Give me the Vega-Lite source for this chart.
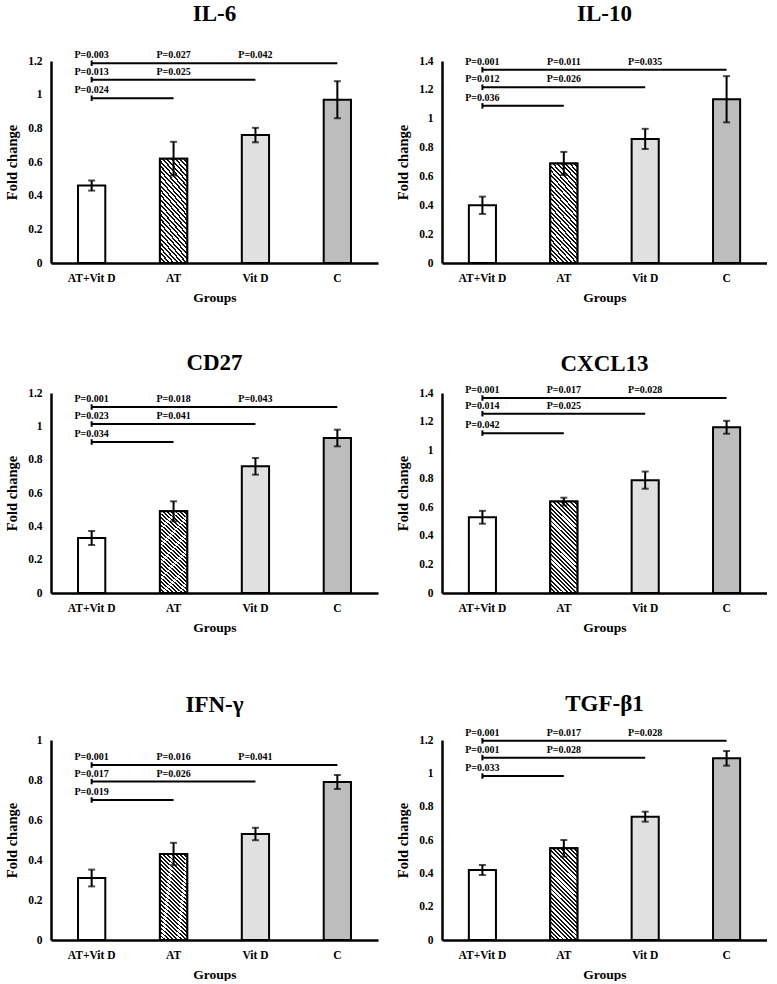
{
"$schema": "https://vega.github.io/schema/vega-lite/v6.json",
"background": "white",
"padding": {"left": 4, "right": 0, "top": 3, "bottom": 0},
"datasets": {
"bars": [
{"panel":"IL-6","group":"AT+Vit D","mean":0.46,"err":0.03},
{"panel":"IL-6","group":"AT","mean":0.62,"err":0.1},
{"panel":"IL-6","group":"Vit D","mean":0.76,"err":0.043},
{"panel":"IL-6","group":"C","mean":0.97,"err":0.11},
{"panel":"IL-10","group":"AT+Vit D","mean":0.4,"err":0.06},
{"panel":"IL-10","group":"AT","mean":0.69,"err":0.08},
{"panel":"IL-10","group":"Vit D","mean":0.86,"err":0.07},
{"panel":"IL-10","group":"C","mean":1.135,"err":0.16},
{"panel":"CD27","group":"AT+Vit D","mean":0.33,"err":0.042},
{"panel":"CD27","group":"AT","mean":0.49,"err":0.06},
{"panel":"CD27","group":"Vit D","mean":0.76,"err":0.05},
{"panel":"CD27","group":"C","mean":0.93,"err":0.05},
{"panel":"CXCL13","group":"AT+Vit D","mean":0.53,"err":0.045},
{"panel":"CXCL13","group":"AT","mean":0.64,"err":0.027},
{"panel":"CXCL13","group":"Vit D","mean":0.79,"err":0.06},
{"panel":"CXCL13","group":"C","mean":1.16,"err":0.045},
{"panel":"IFN-γ","group":"AT+Vit D","mean":0.31,"err":0.042},
{"panel":"IFN-γ","group":"AT","mean":0.43,"err":0.056},
{"panel":"IFN-γ","group":"Vit D","mean":0.53,"err":0.031},
{"panel":"IFN-γ","group":"C","mean":0.79,"err":0.035},
{"panel":"TGF-β1","group":"AT+Vit D","mean":0.42,"err":0.03},
{"panel":"TGF-β1","group":"AT","mean":0.55,"err":0.05},
{"panel":"TGF-β1","group":"Vit D","mean":0.74,"err":0.03},
{"panel":"TGF-β1","group":"C","mean":1.09,"err":0.044}
],
"lines": [
{"panel":"IL-6","from":"AT+Vit D","to":"C","level":1.187},
{"panel":"IL-6","from":"AT+Vit D","to":"Vit D","level":1.089},
{"panel":"IL-6","from":"AT+Vit D","to":"AT","level":0.979},
{"panel":"IL-10","from":"AT+Vit D","to":"C","level":1.339},
{"panel":"IL-10","from":"AT+Vit D","to":"Vit D","level":1.218},
{"panel":"IL-10","from":"AT+Vit D","to":"AT","level":1.089},
{"panel":"CD27","from":"AT+Vit D","to":"C","level":1.116},
{"panel":"CD27","from":"AT+Vit D","to":"Vit D","level":1.014},
{"panel":"CD27","from":"AT+Vit D","to":"AT","level":0.906},
{"panel":"CXCL13","from":"AT+Vit D","to":"C","level":1.365},
{"panel":"CXCL13","from":"AT+Vit D","to":"Vit D","level":1.255},
{"panel":"CXCL13","from":"AT+Vit D","to":"AT","level":1.119},
{"panel":"IFN-γ","from":"AT+Vit D","to":"C","level":0.875},
{"panel":"IFN-γ","from":"AT+Vit D","to":"Vit D","level":0.792},
{"panel":"IFN-γ","from":"AT+Vit D","to":"AT","level":0.7},
{"panel":"TGF-β1","from":"AT+Vit D","to":"C","level":1.195},
{"panel":"TGF-β1","from":"AT+Vit D","to":"Vit D","level":1.094},
{"panel":"TGF-β1","from":"AT+Vit D","to":"AT","level":0.984}
],
"ptext": [
{"panel":"IL-6","group":"AT+Vit D","level":1.187,"p":"P=0.003"},
{"panel":"IL-6","group":"AT","level":1.187,"p":"P=0.027"},
{"panel":"IL-6","group":"Vit D","level":1.187,"p":"P=0.042"},
{"panel":"IL-6","group":"AT+Vit D","level":1.089,"p":"P=0.013"},
{"panel":"IL-6","group":"AT","level":1.089,"p":"P=0.025"},
{"panel":"IL-6","group":"AT+Vit D","level":0.979,"p":"P=0.024"},
{"panel":"IL-10","group":"AT+Vit D","level":1.339,"p":"P=0.001"},
{"panel":"IL-10","group":"AT","level":1.339,"p":"P=0.011"},
{"panel":"IL-10","group":"Vit D","level":1.339,"p":"P=0.035"},
{"panel":"IL-10","group":"AT+Vit D","level":1.218,"p":"P=0.012"},
{"panel":"IL-10","group":"AT","level":1.218,"p":"P=0.026"},
{"panel":"IL-10","group":"AT+Vit D","level":1.089,"p":"P=0.036"},
{"panel":"CD27","group":"AT+Vit D","level":1.116,"p":"P=0.001"},
{"panel":"CD27","group":"AT","level":1.116,"p":"P=0.018"},
{"panel":"CD27","group":"Vit D","level":1.116,"p":"P=0.043"},
{"panel":"CD27","group":"AT+Vit D","level":1.014,"p":"P=0.023"},
{"panel":"CD27","group":"AT","level":1.014,"p":"P=0.041"},
{"panel":"CD27","group":"AT+Vit D","level":0.906,"p":"P=0.034"},
{"panel":"CXCL13","group":"AT+Vit D","level":1.365,"p":"P=0.001"},
{"panel":"CXCL13","group":"AT","level":1.365,"p":"P=0.017"},
{"panel":"CXCL13","group":"Vit D","level":1.365,"p":"P=0.028"},
{"panel":"CXCL13","group":"AT+Vit D","level":1.255,"p":"P=0.014"},
{"panel":"CXCL13","group":"AT","level":1.255,"p":"P=0.025"},
{"panel":"CXCL13","group":"AT+Vit D","level":1.119,"p":"P=0.042"},
{"panel":"IFN-γ","group":"AT+Vit D","level":0.875,"p":"P=0.001"},
{"panel":"IFN-γ","group":"AT","level":0.875,"p":"P=0.016"},
{"panel":"IFN-γ","group":"Vit D","level":0.875,"p":"P=0.041"},
{"panel":"IFN-γ","group":"AT+Vit D","level":0.792,"p":"P=0.017"},
{"panel":"IFN-γ","group":"AT","level":0.792,"p":"P=0.026"},
{"panel":"IFN-γ","group":"AT+Vit D","level":0.7,"p":"P=0.019"},
{"panel":"TGF-β1","group":"AT+Vit D","level":1.195,"p":"P=0.001"},
{"panel":"TGF-β1","group":"AT","level":1.195,"p":"P=0.017"},
{"panel":"TGF-β1","group":"Vit D","level":1.195,"p":"P=0.028"},
{"panel":"TGF-β1","group":"AT+Vit D","level":1.094,"p":"P=0.001"},
{"panel":"TGF-β1","group":"AT","level":1.094,"p":"P=0.028"},
{"panel":"TGF-β1","group":"AT+Vit D","level":0.984,"p":"P=0.033"}
]
},
"vconcat": [
{"vconcat": [
{"hconcat": [
{"width": 327, "height": 202, "title": {"text": "IL-6", "offset": 24},
"layer": [
{"data": {"name": "bars"}, "transform": [{"filter": "datum.panel === 'IL-6'"}], "mark": {"type": "bar", "stroke": "#000", "strokeWidth": 2},
"encoding": {"x": {"field": "group", "type": "nominal", "title": "Groups", "scale": {"domain": ["AT+Vit D","AT","Vit D","C"], "paddingInner": 0.667, "paddingOuter": 0.33}},
"y": {"field": "mean", "type": "quantitative", "title": "Fold change", "scale": {"domain": [0, 1.2], "nice": false}, "axis": {"values": [0,0.2,0.4,0.6,0.8,1,1.2], "tickCount": 12, "format": "~g", "labelOverlap": false}},
"fill": {"field": "group", "type": "nominal", "scale": {"domain": ["AT+Vit D","AT","Vit D","C"], "range": ["#ffffff","#ffffff","#e0e0e0","#bdbdbd"]}, "legend": null}}},
{"data": {"name": "bars"}, "transform": [{"filter": "datum.panel === 'IL-6' && datum.group === 'AT'"}], "mark": {"type": "bar", "stroke": "#000", "strokeWidth": 2, "fill": {"gradient": "linear", "x1": 0, "y1": 1, "x2": 1, "y2": -2.4, "stops": [
{"offset":0,"color":"#111"},{"offset":0.0056,"color":"#111"},{"offset":0.0056,"color":"#fff"},{"offset":0.0125,"color":"#fff"},
{"offset":0.0125,"color":"#111"},{"offset":0.0181,"color":"#111"},{"offset":0.0181,"color":"#fff"},{"offset":0.025,"color":"#fff"},
{"offset":0.025,"color":"#111"},{"offset":0.0306,"color":"#111"},{"offset":0.0306,"color":"#fff"},{"offset":0.0375,"color":"#fff"},
{"offset":0.0375,"color":"#111"},{"offset":0.0431,"color":"#111"},{"offset":0.0431,"color":"#fff"},{"offset":0.05,"color":"#fff"},
{"offset":0.05,"color":"#111"},{"offset":0.0556,"color":"#111"},{"offset":0.0556,"color":"#fff"},{"offset":0.0625,"color":"#fff"},
{"offset":0.0625,"color":"#111"},{"offset":0.0681,"color":"#111"},{"offset":0.0681,"color":"#fff"},{"offset":0.075,"color":"#fff"},
{"offset":0.075,"color":"#111"},{"offset":0.0806,"color":"#111"},{"offset":0.0806,"color":"#fff"},{"offset":0.0875,"color":"#fff"},
{"offset":0.0875,"color":"#111"},{"offset":0.0931,"color":"#111"},{"offset":0.0931,"color":"#fff"},{"offset":0.1,"color":"#fff"},
{"offset":0.1,"color":"#111"},{"offset":0.1056,"color":"#111"},{"offset":0.1056,"color":"#fff"},{"offset":0.1125,"color":"#fff"},
{"offset":0.1125,"color":"#111"},{"offset":0.1181,"color":"#111"},{"offset":0.1181,"color":"#fff"},{"offset":0.125,"color":"#fff"},
{"offset":0.125,"color":"#111"},{"offset":0.1306,"color":"#111"},{"offset":0.1306,"color":"#fff"},{"offset":0.1375,"color":"#fff"},
{"offset":0.1375,"color":"#111"},{"offset":0.1431,"color":"#111"},{"offset":0.1431,"color":"#fff"},{"offset":0.15,"color":"#fff"},
{"offset":0.15,"color":"#111"},{"offset":0.1556,"color":"#111"},{"offset":0.1556,"color":"#fff"},{"offset":0.1625,"color":"#fff"},
{"offset":0.1625,"color":"#111"},{"offset":0.1681,"color":"#111"},{"offset":0.1681,"color":"#fff"},{"offset":0.175,"color":"#fff"},
{"offset":0.175,"color":"#111"},{"offset":0.1806,"color":"#111"},{"offset":0.1806,"color":"#fff"},{"offset":0.1875,"color":"#fff"},
{"offset":0.1875,"color":"#111"},{"offset":0.1931,"color":"#111"},{"offset":0.1931,"color":"#fff"},{"offset":0.2,"color":"#fff"},
{"offset":0.2,"color":"#111"},{"offset":0.2056,"color":"#111"},{"offset":0.2056,"color":"#fff"},{"offset":0.2125,"color":"#fff"},
{"offset":0.2125,"color":"#111"},{"offset":0.2181,"color":"#111"},{"offset":0.2181,"color":"#fff"},{"offset":0.225,"color":"#fff"},
{"offset":0.225,"color":"#111"},{"offset":0.2306,"color":"#111"},{"offset":0.2306,"color":"#fff"},{"offset":0.2375,"color":"#fff"},
{"offset":0.2375,"color":"#111"},{"offset":0.2431,"color":"#111"},{"offset":0.2431,"color":"#fff"},{"offset":0.25,"color":"#fff"},
{"offset":0.25,"color":"#111"},{"offset":0.2556,"color":"#111"},{"offset":0.2556,"color":"#fff"},{"offset":0.2625,"color":"#fff"},
{"offset":0.2625,"color":"#111"},{"offset":0.2681,"color":"#111"},{"offset":0.2681,"color":"#fff"},{"offset":0.275,"color":"#fff"},
{"offset":0.275,"color":"#111"},{"offset":0.2806,"color":"#111"},{"offset":0.2806,"color":"#fff"},{"offset":0.2875,"color":"#fff"},
{"offset":0.2875,"color":"#111"},{"offset":0.2931,"color":"#111"},{"offset":0.2931,"color":"#fff"},{"offset":0.3,"color":"#fff"},
{"offset":0.3,"color":"#111"},{"offset":0.3056,"color":"#111"},{"offset":0.3056,"color":"#fff"},{"offset":0.3125,"color":"#fff"},
{"offset":0.3125,"color":"#111"},{"offset":0.3181,"color":"#111"},{"offset":0.3181,"color":"#fff"},{"offset":0.325,"color":"#fff"},
{"offset":0.325,"color":"#111"},{"offset":0.3306,"color":"#111"},{"offset":0.3306,"color":"#fff"},{"offset":0.3375,"color":"#fff"},
{"offset":0.3375,"color":"#111"},{"offset":0.3431,"color":"#111"},{"offset":0.3431,"color":"#fff"},{"offset":0.35,"color":"#fff"},
{"offset":0.35,"color":"#111"},{"offset":0.3556,"color":"#111"},{"offset":0.3556,"color":"#fff"},{"offset":1,"color":"#fff"}
]}},
"encoding": {"x": {"field": "group", "type": "nominal", "title": "Groups"}, "y": {"field": "mean", "type": "quantitative", "title": "Fold change"}}},
{"data": {"name": "bars"}, "transform": [{"filter": "datum.panel === 'IL-6'"}], "mark": {"type": "errorbar", "thickness": 2, "color": "#000", "ticks": {"size": 7, "thickness": 2, "color": "#000"}},
"encoding": {"x": {"field": "group", "type": "nominal", "title": "Groups"}, "y": {"field": "mean", "type": "quantitative", "title": "Fold change"}, "yError": {"field": "err"}}},
{"data": {"name": "lines"}, "transform": [{"filter": "datum.panel === 'IL-6'"}], "mark": {"type": "rule", "strokeWidth": 2, "color": "#000"},
"encoding": {"x": {"field": "from", "type": "nominal", "title": "Groups"}, "x2": {"field": "to"}, "y": {"field": "level", "type": "quantitative", "title": "Fold change"}}},
{"data": {"name": "lines"}, "transform": [{"filter": "datum.panel === 'IL-6'"}], "mark": {"type": "point", "shape": "M0,-1L0,1", "size": 30, "filled": false, "stroke": "#000", "strokeWidth": 2, "opacity": 1},
"encoding": {"x": {"field": "from", "type": "nominal", "title": "Groups"}, "y": {"field": "level", "type": "quantitative", "title": "Fold change"}}},
{"data": {"name": "ptext"}, "transform": [{"filter": "datum.panel === 'IL-6'"}], "mark": {"type": "text", "dy": -8, "fontSize": 10, "fontWeight": "bold", "color": "#000"},
"encoding": {"x": {"field": "group", "type": "nominal", "title": "Groups"}, "y": {"field": "level", "type": "quantitative", "title": "Fold change"}, "text": {"field": "p"}}}
]},
{"width": 325, "height": 202, "title": {"text": "IL-10", "offset": 29},
"layer": [
{"data": {"name": "bars"}, "transform": [{"filter": "datum.panel === 'IL-10'"}], "mark": {"type": "bar", "stroke": "#000", "strokeWidth": 2},
"encoding": {"x": {"field": "group", "type": "nominal", "title": "Groups", "scale": {"domain": ["AT+Vit D","AT","Vit D","C"], "paddingInner": 0.667, "paddingOuter": 0.33}},
"y": {"field": "mean", "type": "quantitative", "title": "Fold change", "scale": {"domain": [0, 1.4], "nice": false}, "axis": {"values": [0,0.2,0.4,0.6,0.8,1,1.2,1.4], "tickCount": 12, "format": "~g", "labelOverlap": false}},
"fill": {"field": "group", "type": "nominal", "scale": {"domain": ["AT+Vit D","AT","Vit D","C"], "range": ["#ffffff","#ffffff","#e0e0e0","#bdbdbd"]}, "legend": null}}},
{"data": {"name": "bars"}, "transform": [{"filter": "datum.panel === 'IL-10' && datum.group === 'AT'"}], "mark": {"type": "bar", "stroke": "#000", "strokeWidth": 2, "fill": {"gradient": "linear", "x1": 0, "y1": 1, "x2": 1, "y2": -2.4, "stops": [
{"offset":0,"color":"#111"},{"offset":0.0056,"color":"#111"},{"offset":0.0056,"color":"#fff"},{"offset":0.0125,"color":"#fff"},
{"offset":0.0125,"color":"#111"},{"offset":0.0181,"color":"#111"},{"offset":0.0181,"color":"#fff"},{"offset":0.025,"color":"#fff"},
{"offset":0.025,"color":"#111"},{"offset":0.0306,"color":"#111"},{"offset":0.0306,"color":"#fff"},{"offset":0.0375,"color":"#fff"},
{"offset":0.0375,"color":"#111"},{"offset":0.0431,"color":"#111"},{"offset":0.0431,"color":"#fff"},{"offset":0.05,"color":"#fff"},
{"offset":0.05,"color":"#111"},{"offset":0.0556,"color":"#111"},{"offset":0.0556,"color":"#fff"},{"offset":0.0625,"color":"#fff"},
{"offset":0.0625,"color":"#111"},{"offset":0.0681,"color":"#111"},{"offset":0.0681,"color":"#fff"},{"offset":0.075,"color":"#fff"},
{"offset":0.075,"color":"#111"},{"offset":0.0806,"color":"#111"},{"offset":0.0806,"color":"#fff"},{"offset":0.0875,"color":"#fff"},
{"offset":0.0875,"color":"#111"},{"offset":0.0931,"color":"#111"},{"offset":0.0931,"color":"#fff"},{"offset":0.1,"color":"#fff"},
{"offset":0.1,"color":"#111"},{"offset":0.1056,"color":"#111"},{"offset":0.1056,"color":"#fff"},{"offset":0.1125,"color":"#fff"},
{"offset":0.1125,"color":"#111"},{"offset":0.1181,"color":"#111"},{"offset":0.1181,"color":"#fff"},{"offset":0.125,"color":"#fff"},
{"offset":0.125,"color":"#111"},{"offset":0.1306,"color":"#111"},{"offset":0.1306,"color":"#fff"},{"offset":0.1375,"color":"#fff"},
{"offset":0.1375,"color":"#111"},{"offset":0.1431,"color":"#111"},{"offset":0.1431,"color":"#fff"},{"offset":0.15,"color":"#fff"},
{"offset":0.15,"color":"#111"},{"offset":0.1556,"color":"#111"},{"offset":0.1556,"color":"#fff"},{"offset":0.1625,"color":"#fff"},
{"offset":0.1625,"color":"#111"},{"offset":0.1681,"color":"#111"},{"offset":0.1681,"color":"#fff"},{"offset":0.175,"color":"#fff"},
{"offset":0.175,"color":"#111"},{"offset":0.1806,"color":"#111"},{"offset":0.1806,"color":"#fff"},{"offset":0.1875,"color":"#fff"},
{"offset":0.1875,"color":"#111"},{"offset":0.1931,"color":"#111"},{"offset":0.1931,"color":"#fff"},{"offset":0.2,"color":"#fff"},
{"offset":0.2,"color":"#111"},{"offset":0.2056,"color":"#111"},{"offset":0.2056,"color":"#fff"},{"offset":0.2125,"color":"#fff"},
{"offset":0.2125,"color":"#111"},{"offset":0.2181,"color":"#111"},{"offset":0.2181,"color":"#fff"},{"offset":0.225,"color":"#fff"},
{"offset":0.225,"color":"#111"},{"offset":0.2306,"color":"#111"},{"offset":0.2306,"color":"#fff"},{"offset":0.2375,"color":"#fff"},
{"offset":0.2375,"color":"#111"},{"offset":0.2431,"color":"#111"},{"offset":0.2431,"color":"#fff"},{"offset":0.25,"color":"#fff"},
{"offset":0.25,"color":"#111"},{"offset":0.2556,"color":"#111"},{"offset":0.2556,"color":"#fff"},{"offset":0.2625,"color":"#fff"},
{"offset":0.2625,"color":"#111"},{"offset":0.2681,"color":"#111"},{"offset":0.2681,"color":"#fff"},{"offset":0.275,"color":"#fff"},
{"offset":0.275,"color":"#111"},{"offset":0.2806,"color":"#111"},{"offset":0.2806,"color":"#fff"},{"offset":0.2875,"color":"#fff"},
{"offset":0.2875,"color":"#111"},{"offset":0.2931,"color":"#111"},{"offset":0.2931,"color":"#fff"},{"offset":0.3,"color":"#fff"},
{"offset":0.3,"color":"#111"},{"offset":0.3056,"color":"#111"},{"offset":0.3056,"color":"#fff"},{"offset":0.3125,"color":"#fff"},
{"offset":0.3125,"color":"#111"},{"offset":0.3181,"color":"#111"},{"offset":0.3181,"color":"#fff"},{"offset":0.325,"color":"#fff"},
{"offset":0.325,"color":"#111"},{"offset":0.3306,"color":"#111"},{"offset":0.3306,"color":"#fff"},{"offset":0.3375,"color":"#fff"},
{"offset":0.3375,"color":"#111"},{"offset":0.3431,"color":"#111"},{"offset":0.3431,"color":"#fff"},{"offset":0.35,"color":"#fff"},
{"offset":0.35,"color":"#111"},{"offset":0.3556,"color":"#111"},{"offset":0.3556,"color":"#fff"},{"offset":1,"color":"#fff"}
]}},
"encoding": {"x": {"field": "group", "type": "nominal", "title": "Groups"}, "y": {"field": "mean", "type": "quantitative", "title": "Fold change"}}},
{"data": {"name": "bars"}, "transform": [{"filter": "datum.panel === 'IL-10'"}], "mark": {"type": "errorbar", "thickness": 2, "color": "#000", "ticks": {"size": 7, "thickness": 2, "color": "#000"}},
"encoding": {"x": {"field": "group", "type": "nominal", "title": "Groups"}, "y": {"field": "mean", "type": "quantitative", "title": "Fold change"}, "yError": {"field": "err"}}},
{"data": {"name": "lines"}, "transform": [{"filter": "datum.panel === 'IL-10'"}], "mark": {"type": "rule", "strokeWidth": 2, "color": "#000"},
"encoding": {"x": {"field": "from", "type": "nominal", "title": "Groups"}, "x2": {"field": "to"}, "y": {"field": "level", "type": "quantitative", "title": "Fold change"}}},
{"data": {"name": "lines"}, "transform": [{"filter": "datum.panel === 'IL-10'"}], "mark": {"type": "point", "shape": "M0,-1L0,1", "size": 30, "filled": false, "stroke": "#000", "strokeWidth": 2, "opacity": 1},
"encoding": {"x": {"field": "from", "type": "nominal", "title": "Groups"}, "y": {"field": "level", "type": "quantitative", "title": "Fold change"}}},
{"data": {"name": "ptext"}, "transform": [{"filter": "datum.panel === 'IL-10'"}], "mark": {"type": "text", "dy": -8, "fontSize": 10, "fontWeight": "bold", "color": "#000"},
"encoding": {"x": {"field": "group", "type": "nominal", "title": "Groups"}, "y": {"field": "level", "type": "quantitative", "title": "Fold change"}, "text": {"field": "p"}}}
]}
], "spacing": 17},
{"hconcat": [
{"width": 327, "height": 200, "title": {"text": "CD27", "offset": 12},
"layer": [
{"data": {"name": "bars"}, "transform": [{"filter": "datum.panel === 'CD27'"}], "mark": {"type": "bar", "stroke": "#000", "strokeWidth": 2},
"encoding": {"x": {"field": "group", "type": "nominal", "title": "Groups", "scale": {"domain": ["AT+Vit D","AT","Vit D","C"], "paddingInner": 0.667, "paddingOuter": 0.33}},
"y": {"field": "mean", "type": "quantitative", "title": "Fold change", "scale": {"domain": [0, 1.2], "nice": false}, "axis": {"values": [0,0.2,0.4,0.6,0.8,1,1.2], "tickCount": 12, "format": "~g", "labelOverlap": false}},
"fill": {"field": "group", "type": "nominal", "scale": {"domain": ["AT+Vit D","AT","Vit D","C"], "range": ["#ffffff","#ffffff","#e0e0e0","#bdbdbd"]}, "legend": null}}},
{"data": {"name": "bars"}, "transform": [{"filter": "datum.panel === 'CD27' && datum.group === 'AT'"}], "mark": {"type": "bar", "stroke": "#000", "strokeWidth": 2, "fill": {"gradient": "linear", "x1": 0, "y1": 1, "x2": 1, "y2": -2.4, "stops": [
{"offset":0,"color":"#111"},{"offset":0.0056,"color":"#111"},{"offset":0.0056,"color":"#fff"},{"offset":0.0125,"color":"#fff"},
{"offset":0.0125,"color":"#111"},{"offset":0.0181,"color":"#111"},{"offset":0.0181,"color":"#fff"},{"offset":0.025,"color":"#fff"},
{"offset":0.025,"color":"#111"},{"offset":0.0306,"color":"#111"},{"offset":0.0306,"color":"#fff"},{"offset":0.0375,"color":"#fff"},
{"offset":0.0375,"color":"#111"},{"offset":0.0431,"color":"#111"},{"offset":0.0431,"color":"#fff"},{"offset":0.05,"color":"#fff"},
{"offset":0.05,"color":"#111"},{"offset":0.0556,"color":"#111"},{"offset":0.0556,"color":"#fff"},{"offset":0.0625,"color":"#fff"},
{"offset":0.0625,"color":"#111"},{"offset":0.0681,"color":"#111"},{"offset":0.0681,"color":"#fff"},{"offset":0.075,"color":"#fff"},
{"offset":0.075,"color":"#111"},{"offset":0.0806,"color":"#111"},{"offset":0.0806,"color":"#fff"},{"offset":0.0875,"color":"#fff"},
{"offset":0.0875,"color":"#111"},{"offset":0.0931,"color":"#111"},{"offset":0.0931,"color":"#fff"},{"offset":0.1,"color":"#fff"},
{"offset":0.1,"color":"#111"},{"offset":0.1056,"color":"#111"},{"offset":0.1056,"color":"#fff"},{"offset":0.1125,"color":"#fff"},
{"offset":0.1125,"color":"#111"},{"offset":0.1181,"color":"#111"},{"offset":0.1181,"color":"#fff"},{"offset":0.125,"color":"#fff"},
{"offset":0.125,"color":"#111"},{"offset":0.1306,"color":"#111"},{"offset":0.1306,"color":"#fff"},{"offset":0.1375,"color":"#fff"},
{"offset":0.1375,"color":"#111"},{"offset":0.1431,"color":"#111"},{"offset":0.1431,"color":"#fff"},{"offset":0.15,"color":"#fff"},
{"offset":0.15,"color":"#111"},{"offset":0.1556,"color":"#111"},{"offset":0.1556,"color":"#fff"},{"offset":0.1625,"color":"#fff"},
{"offset":0.1625,"color":"#111"},{"offset":0.1681,"color":"#111"},{"offset":0.1681,"color":"#fff"},{"offset":0.175,"color":"#fff"},
{"offset":0.175,"color":"#111"},{"offset":0.1806,"color":"#111"},{"offset":0.1806,"color":"#fff"},{"offset":0.1875,"color":"#fff"},
{"offset":0.1875,"color":"#111"},{"offset":0.1931,"color":"#111"},{"offset":0.1931,"color":"#fff"},{"offset":0.2,"color":"#fff"},
{"offset":0.2,"color":"#111"},{"offset":0.2056,"color":"#111"},{"offset":0.2056,"color":"#fff"},{"offset":0.2125,"color":"#fff"},
{"offset":0.2125,"color":"#111"},{"offset":0.2181,"color":"#111"},{"offset":0.2181,"color":"#fff"},{"offset":0.225,"color":"#fff"},
{"offset":0.225,"color":"#111"},{"offset":0.2306,"color":"#111"},{"offset":0.2306,"color":"#fff"},{"offset":0.2375,"color":"#fff"},
{"offset":0.2375,"color":"#111"},{"offset":0.2431,"color":"#111"},{"offset":0.2431,"color":"#fff"},{"offset":0.25,"color":"#fff"},
{"offset":0.25,"color":"#111"},{"offset":0.2556,"color":"#111"},{"offset":0.2556,"color":"#fff"},{"offset":0.2625,"color":"#fff"},
{"offset":0.2625,"color":"#111"},{"offset":0.2681,"color":"#111"},{"offset":0.2681,"color":"#fff"},{"offset":0.275,"color":"#fff"},
{"offset":0.275,"color":"#111"},{"offset":0.2806,"color":"#111"},{"offset":0.2806,"color":"#fff"},{"offset":0.2875,"color":"#fff"},
{"offset":0.2875,"color":"#111"},{"offset":0.2931,"color":"#111"},{"offset":0.2931,"color":"#fff"},{"offset":0.3,"color":"#fff"},
{"offset":0.3,"color":"#111"},{"offset":0.3056,"color":"#111"},{"offset":0.3056,"color":"#fff"},{"offset":0.3125,"color":"#fff"},
{"offset":0.3125,"color":"#111"},{"offset":0.3181,"color":"#111"},{"offset":0.3181,"color":"#fff"},{"offset":0.325,"color":"#fff"},
{"offset":0.325,"color":"#111"},{"offset":0.3306,"color":"#111"},{"offset":0.3306,"color":"#fff"},{"offset":0.3375,"color":"#fff"},
{"offset":0.3375,"color":"#111"},{"offset":0.3431,"color":"#111"},{"offset":0.3431,"color":"#fff"},{"offset":0.35,"color":"#fff"},
{"offset":0.35,"color":"#111"},{"offset":0.3556,"color":"#111"},{"offset":0.3556,"color":"#fff"},{"offset":1,"color":"#fff"}
]}},
"encoding": {"x": {"field": "group", "type": "nominal", "title": "Groups"}, "y": {"field": "mean", "type": "quantitative", "title": "Fold change"}}},
{"data": {"name": "bars"}, "transform": [{"filter": "datum.panel === 'CD27'"}], "mark": {"type": "errorbar", "thickness": 2, "color": "#000", "ticks": {"size": 7, "thickness": 2, "color": "#000"}},
"encoding": {"x": {"field": "group", "type": "nominal", "title": "Groups"}, "y": {"field": "mean", "type": "quantitative", "title": "Fold change"}, "yError": {"field": "err"}}},
{"data": {"name": "lines"}, "transform": [{"filter": "datum.panel === 'CD27'"}], "mark": {"type": "rule", "strokeWidth": 2, "color": "#000"},
"encoding": {"x": {"field": "from", "type": "nominal", "title": "Groups"}, "x2": {"field": "to"}, "y": {"field": "level", "type": "quantitative", "title": "Fold change"}}},
{"data": {"name": "lines"}, "transform": [{"filter": "datum.panel === 'CD27'"}], "mark": {"type": "point", "shape": "M0,-1L0,1", "size": 30, "filled": false, "stroke": "#000", "strokeWidth": 2, "opacity": 1},
"encoding": {"x": {"field": "from", "type": "nominal", "title": "Groups"}, "y": {"field": "level", "type": "quantitative", "title": "Fold change"}}},
{"data": {"name": "ptext"}, "transform": [{"filter": "datum.panel === 'CD27'"}], "mark": {"type": "text", "dy": -8, "fontSize": 10, "fontWeight": "bold", "color": "#000"},
"encoding": {"x": {"field": "group", "type": "nominal", "title": "Groups"}, "y": {"field": "level", "type": "quantitative", "title": "Fold change"}, "text": {"field": "p"}}}
]},
{"width": 325, "height": 200, "title": {"text": "CXCL13", "offset": 9},
"layer": [
{"data": {"name": "bars"}, "transform": [{"filter": "datum.panel === 'CXCL13'"}], "mark": {"type": "bar", "stroke": "#000", "strokeWidth": 2},
"encoding": {"x": {"field": "group", "type": "nominal", "title": "Groups", "scale": {"domain": ["AT+Vit D","AT","Vit D","C"], "paddingInner": 0.667, "paddingOuter": 0.33}},
"y": {"field": "mean", "type": "quantitative", "title": "Fold change", "scale": {"domain": [0, 1.4], "nice": false}, "axis": {"values": [0,0.2,0.4,0.6,0.8,1,1.2,1.4], "tickCount": 12, "format": "~g", "labelOverlap": false}},
"fill": {"field": "group", "type": "nominal", "scale": {"domain": ["AT+Vit D","AT","Vit D","C"], "range": ["#ffffff","#ffffff","#e0e0e0","#bdbdbd"]}, "legend": null}}},
{"data": {"name": "bars"}, "transform": [{"filter": "datum.panel === 'CXCL13' && datum.group === 'AT'"}], "mark": {"type": "bar", "stroke": "#000", "strokeWidth": 2, "fill": {"gradient": "linear", "x1": 0, "y1": 1, "x2": 1, "y2": -2.4, "stops": [
{"offset":0,"color":"#111"},{"offset":0.0056,"color":"#111"},{"offset":0.0056,"color":"#fff"},{"offset":0.0125,"color":"#fff"},
{"offset":0.0125,"color":"#111"},{"offset":0.0181,"color":"#111"},{"offset":0.0181,"color":"#fff"},{"offset":0.025,"color":"#fff"},
{"offset":0.025,"color":"#111"},{"offset":0.0306,"color":"#111"},{"offset":0.0306,"color":"#fff"},{"offset":0.0375,"color":"#fff"},
{"offset":0.0375,"color":"#111"},{"offset":0.0431,"color":"#111"},{"offset":0.0431,"color":"#fff"},{"offset":0.05,"color":"#fff"},
{"offset":0.05,"color":"#111"},{"offset":0.0556,"color":"#111"},{"offset":0.0556,"color":"#fff"},{"offset":0.0625,"color":"#fff"},
{"offset":0.0625,"color":"#111"},{"offset":0.0681,"color":"#111"},{"offset":0.0681,"color":"#fff"},{"offset":0.075,"color":"#fff"},
{"offset":0.075,"color":"#111"},{"offset":0.0806,"color":"#111"},{"offset":0.0806,"color":"#fff"},{"offset":0.0875,"color":"#fff"},
{"offset":0.0875,"color":"#111"},{"offset":0.0931,"color":"#111"},{"offset":0.0931,"color":"#fff"},{"offset":0.1,"color":"#fff"},
{"offset":0.1,"color":"#111"},{"offset":0.1056,"color":"#111"},{"offset":0.1056,"color":"#fff"},{"offset":0.1125,"color":"#fff"},
{"offset":0.1125,"color":"#111"},{"offset":0.1181,"color":"#111"},{"offset":0.1181,"color":"#fff"},{"offset":0.125,"color":"#fff"},
{"offset":0.125,"color":"#111"},{"offset":0.1306,"color":"#111"},{"offset":0.1306,"color":"#fff"},{"offset":0.1375,"color":"#fff"},
{"offset":0.1375,"color":"#111"},{"offset":0.1431,"color":"#111"},{"offset":0.1431,"color":"#fff"},{"offset":0.15,"color":"#fff"},
{"offset":0.15,"color":"#111"},{"offset":0.1556,"color":"#111"},{"offset":0.1556,"color":"#fff"},{"offset":0.1625,"color":"#fff"},
{"offset":0.1625,"color":"#111"},{"offset":0.1681,"color":"#111"},{"offset":0.1681,"color":"#fff"},{"offset":0.175,"color":"#fff"},
{"offset":0.175,"color":"#111"},{"offset":0.1806,"color":"#111"},{"offset":0.1806,"color":"#fff"},{"offset":0.1875,"color":"#fff"},
{"offset":0.1875,"color":"#111"},{"offset":0.1931,"color":"#111"},{"offset":0.1931,"color":"#fff"},{"offset":0.2,"color":"#fff"},
{"offset":0.2,"color":"#111"},{"offset":0.2056,"color":"#111"},{"offset":0.2056,"color":"#fff"},{"offset":0.2125,"color":"#fff"},
{"offset":0.2125,"color":"#111"},{"offset":0.2181,"color":"#111"},{"offset":0.2181,"color":"#fff"},{"offset":0.225,"color":"#fff"},
{"offset":0.225,"color":"#111"},{"offset":0.2306,"color":"#111"},{"offset":0.2306,"color":"#fff"},{"offset":0.2375,"color":"#fff"},
{"offset":0.2375,"color":"#111"},{"offset":0.2431,"color":"#111"},{"offset":0.2431,"color":"#fff"},{"offset":0.25,"color":"#fff"},
{"offset":0.25,"color":"#111"},{"offset":0.2556,"color":"#111"},{"offset":0.2556,"color":"#fff"},{"offset":0.2625,"color":"#fff"},
{"offset":0.2625,"color":"#111"},{"offset":0.2681,"color":"#111"},{"offset":0.2681,"color":"#fff"},{"offset":0.275,"color":"#fff"},
{"offset":0.275,"color":"#111"},{"offset":0.2806,"color":"#111"},{"offset":0.2806,"color":"#fff"},{"offset":0.2875,"color":"#fff"},
{"offset":0.2875,"color":"#111"},{"offset":0.2931,"color":"#111"},{"offset":0.2931,"color":"#fff"},{"offset":0.3,"color":"#fff"},
{"offset":0.3,"color":"#111"},{"offset":0.3056,"color":"#111"},{"offset":0.3056,"color":"#fff"},{"offset":0.3125,"color":"#fff"},
{"offset":0.3125,"color":"#111"},{"offset":0.3181,"color":"#111"},{"offset":0.3181,"color":"#fff"},{"offset":0.325,"color":"#fff"},
{"offset":0.325,"color":"#111"},{"offset":0.3306,"color":"#111"},{"offset":0.3306,"color":"#fff"},{"offset":0.3375,"color":"#fff"},
{"offset":0.3375,"color":"#111"},{"offset":0.3431,"color":"#111"},{"offset":0.3431,"color":"#fff"},{"offset":0.35,"color":"#fff"},
{"offset":0.35,"color":"#111"},{"offset":0.3556,"color":"#111"},{"offset":0.3556,"color":"#fff"},{"offset":1,"color":"#fff"}
]}},
"encoding": {"x": {"field": "group", "type": "nominal", "title": "Groups"}, "y": {"field": "mean", "type": "quantitative", "title": "Fold change"}}},
{"data": {"name": "bars"}, "transform": [{"filter": "datum.panel === 'CXCL13'"}], "mark": {"type": "errorbar", "thickness": 2, "color": "#000", "ticks": {"size": 7, "thickness": 2, "color": "#000"}},
"encoding": {"x": {"field": "group", "type": "nominal", "title": "Groups"}, "y": {"field": "mean", "type": "quantitative", "title": "Fold change"}, "yError": {"field": "err"}}},
{"data": {"name": "lines"}, "transform": [{"filter": "datum.panel === 'CXCL13'"}], "mark": {"type": "rule", "strokeWidth": 2, "color": "#000"},
"encoding": {"x": {"field": "from", "type": "nominal", "title": "Groups"}, "x2": {"field": "to"}, "y": {"field": "level", "type": "quantitative", "title": "Fold change"}}},
{"data": {"name": "lines"}, "transform": [{"filter": "datum.panel === 'CXCL13'"}], "mark": {"type": "point", "shape": "M0,-1L0,1", "size": 30, "filled": false, "stroke": "#000", "strokeWidth": 2, "opacity": 1},
"encoding": {"x": {"field": "from", "type": "nominal", "title": "Groups"}, "y": {"field": "level", "type": "quantitative", "title": "Fold change"}}},
{"data": {"name": "ptext"}, "transform": [{"filter": "datum.panel === 'CXCL13'"}], "mark": {"type": "text", "dy": -8, "fontSize": 10, "fontWeight": "bold", "color": "#000"},
"encoding": {"x": {"field": "group", "type": "nominal", "title": "Groups"}, "y": {"field": "level", "type": "quantitative", "title": "Fold change"}, "text": {"field": "p"}}}
]}
], "spacing": 17}
], "spacing": 48},
{"hconcat": [
{"width": 327, "height": 200, "title": {"text": "IFN-γ", "offset": 17},
"layer": [
{"data": {"name": "bars"}, "transform": [{"filter": "datum.panel === 'IFN-γ'"}], "mark": {"type": "bar", "stroke": "#000", "strokeWidth": 2},
"encoding": {"x": {"field": "group", "type": "nominal", "title": "Groups", "scale": {"domain": ["AT+Vit D","AT","Vit D","C"], "paddingInner": 0.667, "paddingOuter": 0.33}},
"y": {"field": "mean", "type": "quantitative", "title": "Fold change", "scale": {"domain": [0, 1], "nice": false}, "axis": {"values": [0,0.2,0.4,0.6,0.8,1], "tickCount": 12, "format": "~g", "labelOverlap": false}},
"fill": {"field": "group", "type": "nominal", "scale": {"domain": ["AT+Vit D","AT","Vit D","C"], "range": ["#ffffff","#ffffff","#e0e0e0","#bdbdbd"]}, "legend": null}}},
{"data": {"name": "bars"}, "transform": [{"filter": "datum.panel === 'IFN-γ' && datum.group === 'AT'"}], "mark": {"type": "bar", "stroke": "#000", "strokeWidth": 2, "fill": {"gradient": "linear", "x1": 0, "y1": 1, "x2": 1, "y2": -2.4, "stops": [
{"offset":0,"color":"#111"},{"offset":0.0056,"color":"#111"},{"offset":0.0056,"color":"#fff"},{"offset":0.0125,"color":"#fff"},
{"offset":0.0125,"color":"#111"},{"offset":0.0181,"color":"#111"},{"offset":0.0181,"color":"#fff"},{"offset":0.025,"color":"#fff"},
{"offset":0.025,"color":"#111"},{"offset":0.0306,"color":"#111"},{"offset":0.0306,"color":"#fff"},{"offset":0.0375,"color":"#fff"},
{"offset":0.0375,"color":"#111"},{"offset":0.0431,"color":"#111"},{"offset":0.0431,"color":"#fff"},{"offset":0.05,"color":"#fff"},
{"offset":0.05,"color":"#111"},{"offset":0.0556,"color":"#111"},{"offset":0.0556,"color":"#fff"},{"offset":0.0625,"color":"#fff"},
{"offset":0.0625,"color":"#111"},{"offset":0.0681,"color":"#111"},{"offset":0.0681,"color":"#fff"},{"offset":0.075,"color":"#fff"},
{"offset":0.075,"color":"#111"},{"offset":0.0806,"color":"#111"},{"offset":0.0806,"color":"#fff"},{"offset":0.0875,"color":"#fff"},
{"offset":0.0875,"color":"#111"},{"offset":0.0931,"color":"#111"},{"offset":0.0931,"color":"#fff"},{"offset":0.1,"color":"#fff"},
{"offset":0.1,"color":"#111"},{"offset":0.1056,"color":"#111"},{"offset":0.1056,"color":"#fff"},{"offset":0.1125,"color":"#fff"},
{"offset":0.1125,"color":"#111"},{"offset":0.1181,"color":"#111"},{"offset":0.1181,"color":"#fff"},{"offset":0.125,"color":"#fff"},
{"offset":0.125,"color":"#111"},{"offset":0.1306,"color":"#111"},{"offset":0.1306,"color":"#fff"},{"offset":0.1375,"color":"#fff"},
{"offset":0.1375,"color":"#111"},{"offset":0.1431,"color":"#111"},{"offset":0.1431,"color":"#fff"},{"offset":0.15,"color":"#fff"},
{"offset":0.15,"color":"#111"},{"offset":0.1556,"color":"#111"},{"offset":0.1556,"color":"#fff"},{"offset":0.1625,"color":"#fff"},
{"offset":0.1625,"color":"#111"},{"offset":0.1681,"color":"#111"},{"offset":0.1681,"color":"#fff"},{"offset":0.175,"color":"#fff"},
{"offset":0.175,"color":"#111"},{"offset":0.1806,"color":"#111"},{"offset":0.1806,"color":"#fff"},{"offset":0.1875,"color":"#fff"},
{"offset":0.1875,"color":"#111"},{"offset":0.1931,"color":"#111"},{"offset":0.1931,"color":"#fff"},{"offset":0.2,"color":"#fff"},
{"offset":0.2,"color":"#111"},{"offset":0.2056,"color":"#111"},{"offset":0.2056,"color":"#fff"},{"offset":0.2125,"color":"#fff"},
{"offset":0.2125,"color":"#111"},{"offset":0.2181,"color":"#111"},{"offset":0.2181,"color":"#fff"},{"offset":0.225,"color":"#fff"},
{"offset":0.225,"color":"#111"},{"offset":0.2306,"color":"#111"},{"offset":0.2306,"color":"#fff"},{"offset":0.2375,"color":"#fff"},
{"offset":0.2375,"color":"#111"},{"offset":0.2431,"color":"#111"},{"offset":0.2431,"color":"#fff"},{"offset":0.25,"color":"#fff"},
{"offset":0.25,"color":"#111"},{"offset":0.2556,"color":"#111"},{"offset":0.2556,"color":"#fff"},{"offset":0.2625,"color":"#fff"},
{"offset":0.2625,"color":"#111"},{"offset":0.2681,"color":"#111"},{"offset":0.2681,"color":"#fff"},{"offset":0.275,"color":"#fff"},
{"offset":0.275,"color":"#111"},{"offset":0.2806,"color":"#111"},{"offset":0.2806,"color":"#fff"},{"offset":0.2875,"color":"#fff"},
{"offset":0.2875,"color":"#111"},{"offset":0.2931,"color":"#111"},{"offset":0.2931,"color":"#fff"},{"offset":0.3,"color":"#fff"},
{"offset":0.3,"color":"#111"},{"offset":0.3056,"color":"#111"},{"offset":0.3056,"color":"#fff"},{"offset":0.3125,"color":"#fff"},
{"offset":0.3125,"color":"#111"},{"offset":0.3181,"color":"#111"},{"offset":0.3181,"color":"#fff"},{"offset":0.325,"color":"#fff"},
{"offset":0.325,"color":"#111"},{"offset":0.3306,"color":"#111"},{"offset":0.3306,"color":"#fff"},{"offset":0.3375,"color":"#fff"},
{"offset":0.3375,"color":"#111"},{"offset":0.3431,"color":"#111"},{"offset":0.3431,"color":"#fff"},{"offset":0.35,"color":"#fff"},
{"offset":0.35,"color":"#111"},{"offset":0.3556,"color":"#111"},{"offset":0.3556,"color":"#fff"},{"offset":1,"color":"#fff"}
]}},
"encoding": {"x": {"field": "group", "type": "nominal", "title": "Groups"}, "y": {"field": "mean", "type": "quantitative", "title": "Fold change"}}},
{"data": {"name": "bars"}, "transform": [{"filter": "datum.panel === 'IFN-γ'"}], "mark": {"type": "errorbar", "thickness": 2, "color": "#000", "ticks": {"size": 7, "thickness": 2, "color": "#000"}},
"encoding": {"x": {"field": "group", "type": "nominal", "title": "Groups"}, "y": {"field": "mean", "type": "quantitative", "title": "Fold change"}, "yError": {"field": "err"}}},
{"data": {"name": "lines"}, "transform": [{"filter": "datum.panel === 'IFN-γ'"}], "mark": {"type": "rule", "strokeWidth": 2, "color": "#000"},
"encoding": {"x": {"field": "from", "type": "nominal", "title": "Groups"}, "x2": {"field": "to"}, "y": {"field": "level", "type": "quantitative", "title": "Fold change"}}},
{"data": {"name": "lines"}, "transform": [{"filter": "datum.panel === 'IFN-γ'"}], "mark": {"type": "point", "shape": "M0,-1L0,1", "size": 30, "filled": false, "stroke": "#000", "strokeWidth": 2, "opacity": 1},
"encoding": {"x": {"field": "from", "type": "nominal", "title": "Groups"}, "y": {"field": "level", "type": "quantitative", "title": "Fold change"}}},
{"data": {"name": "ptext"}, "transform": [{"filter": "datum.panel === 'IFN-γ'"}], "mark": {"type": "text", "dy": -8, "fontSize": 10, "fontWeight": "bold", "color": "#000"},
"encoding": {"x": {"field": "group", "type": "nominal", "title": "Groups"}, "y": {"field": "level", "type": "quantitative", "title": "Fold change"}, "text": {"field": "p"}}}
]},
{"width": 325, "height": 200, "title": {"text": "TGF-β1", "offset": 12},
"layer": [
{"data": {"name": "bars"}, "transform": [{"filter": "datum.panel === 'TGF-β1'"}], "mark": {"type": "bar", "stroke": "#000", "strokeWidth": 2},
"encoding": {"x": {"field": "group", "type": "nominal", "title": "Groups", "scale": {"domain": ["AT+Vit D","AT","Vit D","C"], "paddingInner": 0.667, "paddingOuter": 0.33}},
"y": {"field": "mean", "type": "quantitative", "title": "Fold change", "scale": {"domain": [0, 1.2], "nice": false}, "axis": {"values": [0,0.2,0.4,0.6,0.8,1,1.2], "tickCount": 12, "format": "~g", "labelOverlap": false}},
"fill": {"field": "group", "type": "nominal", "scale": {"domain": ["AT+Vit D","AT","Vit D","C"], "range": ["#ffffff","#ffffff","#e0e0e0","#bdbdbd"]}, "legend": null}}},
{"data": {"name": "bars"}, "transform": [{"filter": "datum.panel === 'TGF-β1' && datum.group === 'AT'"}], "mark": {"type": "bar", "stroke": "#000", "strokeWidth": 2, "fill": {"gradient": "linear", "x1": 0, "y1": 1, "x2": 1, "y2": -2.4, "stops": [
{"offset":0,"color":"#111"},{"offset":0.0056,"color":"#111"},{"offset":0.0056,"color":"#fff"},{"offset":0.0125,"color":"#fff"},
{"offset":0.0125,"color":"#111"},{"offset":0.0181,"color":"#111"},{"offset":0.0181,"color":"#fff"},{"offset":0.025,"color":"#fff"},
{"offset":0.025,"color":"#111"},{"offset":0.0306,"color":"#111"},{"offset":0.0306,"color":"#fff"},{"offset":0.0375,"color":"#fff"},
{"offset":0.0375,"color":"#111"},{"offset":0.0431,"color":"#111"},{"offset":0.0431,"color":"#fff"},{"offset":0.05,"color":"#fff"},
{"offset":0.05,"color":"#111"},{"offset":0.0556,"color":"#111"},{"offset":0.0556,"color":"#fff"},{"offset":0.0625,"color":"#fff"},
{"offset":0.0625,"color":"#111"},{"offset":0.0681,"color":"#111"},{"offset":0.0681,"color":"#fff"},{"offset":0.075,"color":"#fff"},
{"offset":0.075,"color":"#111"},{"offset":0.0806,"color":"#111"},{"offset":0.0806,"color":"#fff"},{"offset":0.0875,"color":"#fff"},
{"offset":0.0875,"color":"#111"},{"offset":0.0931,"color":"#111"},{"offset":0.0931,"color":"#fff"},{"offset":0.1,"color":"#fff"},
{"offset":0.1,"color":"#111"},{"offset":0.1056,"color":"#111"},{"offset":0.1056,"color":"#fff"},{"offset":0.1125,"color":"#fff"},
{"offset":0.1125,"color":"#111"},{"offset":0.1181,"color":"#111"},{"offset":0.1181,"color":"#fff"},{"offset":0.125,"color":"#fff"},
{"offset":0.125,"color":"#111"},{"offset":0.1306,"color":"#111"},{"offset":0.1306,"color":"#fff"},{"offset":0.1375,"color":"#fff"},
{"offset":0.1375,"color":"#111"},{"offset":0.1431,"color":"#111"},{"offset":0.1431,"color":"#fff"},{"offset":0.15,"color":"#fff"},
{"offset":0.15,"color":"#111"},{"offset":0.1556,"color":"#111"},{"offset":0.1556,"color":"#fff"},{"offset":0.1625,"color":"#fff"},
{"offset":0.1625,"color":"#111"},{"offset":0.1681,"color":"#111"},{"offset":0.1681,"color":"#fff"},{"offset":0.175,"color":"#fff"},
{"offset":0.175,"color":"#111"},{"offset":0.1806,"color":"#111"},{"offset":0.1806,"color":"#fff"},{"offset":0.1875,"color":"#fff"},
{"offset":0.1875,"color":"#111"},{"offset":0.1931,"color":"#111"},{"offset":0.1931,"color":"#fff"},{"offset":0.2,"color":"#fff"},
{"offset":0.2,"color":"#111"},{"offset":0.2056,"color":"#111"},{"offset":0.2056,"color":"#fff"},{"offset":0.2125,"color":"#fff"},
{"offset":0.2125,"color":"#111"},{"offset":0.2181,"color":"#111"},{"offset":0.2181,"color":"#fff"},{"offset":0.225,"color":"#fff"},
{"offset":0.225,"color":"#111"},{"offset":0.2306,"color":"#111"},{"offset":0.2306,"color":"#fff"},{"offset":0.2375,"color":"#fff"},
{"offset":0.2375,"color":"#111"},{"offset":0.2431,"color":"#111"},{"offset":0.2431,"color":"#fff"},{"offset":0.25,"color":"#fff"},
{"offset":0.25,"color":"#111"},{"offset":0.2556,"color":"#111"},{"offset":0.2556,"color":"#fff"},{"offset":0.2625,"color":"#fff"},
{"offset":0.2625,"color":"#111"},{"offset":0.2681,"color":"#111"},{"offset":0.2681,"color":"#fff"},{"offset":0.275,"color":"#fff"},
{"offset":0.275,"color":"#111"},{"offset":0.2806,"color":"#111"},{"offset":0.2806,"color":"#fff"},{"offset":0.2875,"color":"#fff"},
{"offset":0.2875,"color":"#111"},{"offset":0.2931,"color":"#111"},{"offset":0.2931,"color":"#fff"},{"offset":0.3,"color":"#fff"},
{"offset":0.3,"color":"#111"},{"offset":0.3056,"color":"#111"},{"offset":0.3056,"color":"#fff"},{"offset":0.3125,"color":"#fff"},
{"offset":0.3125,"color":"#111"},{"offset":0.3181,"color":"#111"},{"offset":0.3181,"color":"#fff"},{"offset":0.325,"color":"#fff"},
{"offset":0.325,"color":"#111"},{"offset":0.3306,"color":"#111"},{"offset":0.3306,"color":"#fff"},{"offset":0.3375,"color":"#fff"},
{"offset":0.3375,"color":"#111"},{"offset":0.3431,"color":"#111"},{"offset":0.3431,"color":"#fff"},{"offset":0.35,"color":"#fff"},
{"offset":0.35,"color":"#111"},{"offset":0.3556,"color":"#111"},{"offset":0.3556,"color":"#fff"},{"offset":1,"color":"#fff"}
]}},
"encoding": {"x": {"field": "group", "type": "nominal", "title": "Groups"}, "y": {"field": "mean", "type": "quantitative", "title": "Fold change"}}},
{"data": {"name": "bars"}, "transform": [{"filter": "datum.panel === 'TGF-β1'"}], "mark": {"type": "errorbar", "thickness": 2, "color": "#000", "ticks": {"size": 7, "thickness": 2, "color": "#000"}},
"encoding": {"x": {"field": "group", "type": "nominal", "title": "Groups"}, "y": {"field": "mean", "type": "quantitative", "title": "Fold change"}, "yError": {"field": "err"}}},
{"data": {"name": "lines"}, "transform": [{"filter": "datum.panel === 'TGF-β1'"}], "mark": {"type": "rule", "strokeWidth": 2, "color": "#000"},
"encoding": {"x": {"field": "from", "type": "nominal", "title": "Groups"}, "x2": {"field": "to"}, "y": {"field": "level", "type": "quantitative", "title": "Fold change"}}},
{"data": {"name": "lines"}, "transform": [{"filter": "datum.panel === 'TGF-β1'"}], "mark": {"type": "point", "shape": "M0,-1L0,1", "size": 30, "filled": false, "stroke": "#000", "strokeWidth": 2, "opacity": 1},
"encoding": {"x": {"field": "from", "type": "nominal", "title": "Groups"}, "y": {"field": "level", "type": "quantitative", "title": "Fold change"}}},
{"data": {"name": "ptext"}, "transform": [{"filter": "datum.panel === 'TGF-β1'"}], "mark": {"type": "text", "dy": -8, "fontSize": 10, "fontWeight": "bold", "color": "#000"},
"encoding": {"x": {"field": "group", "type": "nominal", "title": "Groups"}, "y": {"field": "level", "type": "quantitative", "title": "Fold change"}, "text": {"field": "p"}}}
]}
], "spacing": 17}
],
"spacing": 58,
"config": {
"view": {"stroke": null},
"font": "Liberation Serif",
"axis": {"domainColor": "#000", "domainWidth": 2.5, "ticks": false, "grid": false, "labelOverlap": false, "labelColor": "#000", "labelFont": "Liberation Serif", "labelFontWeight": "bold", "labelFontSize": 11.5, "titleColor": "#000", "titleFont": "Liberation Serif", "titleFontWeight": "bold"},
"axisX": {"labelAngle": 0, "labelPadding": 9, "titlePadding": 7, "titleFontSize": 13.5},
"axisY": {"labelPadding": 9, "titlePadding": 8, "titleFontSize": 14.5},
"title": {"font": "Liberation Serif", "fontSize": 23, "fontWeight": "bold", "color": "#000", "anchor": "middle", "frame": "group"},
"text": {"font": "Liberation Serif"}
}
}
